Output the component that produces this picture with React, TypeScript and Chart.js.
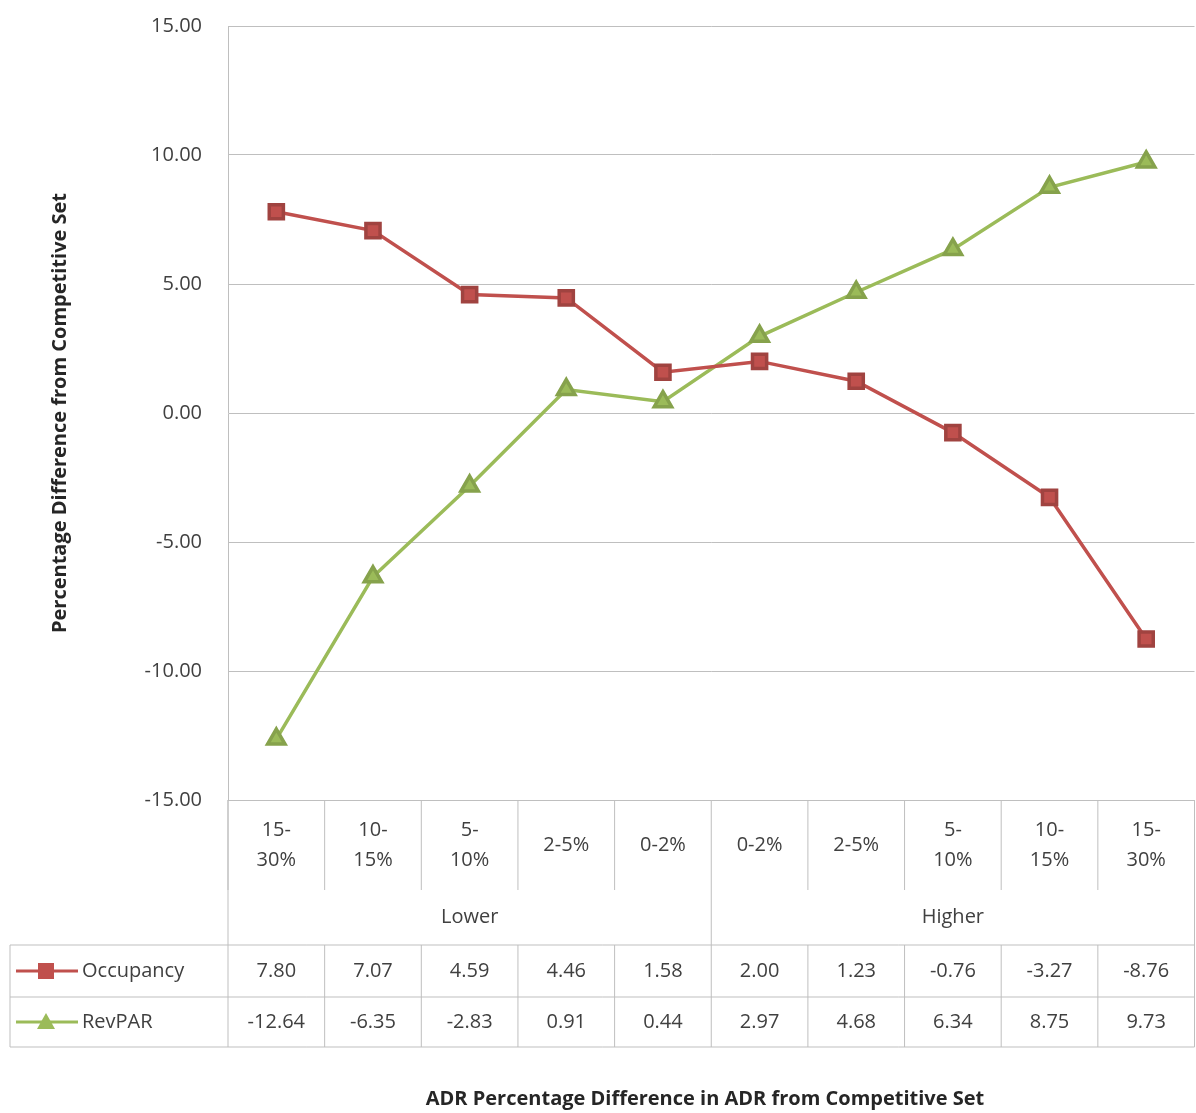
import React, { useEffect, useRef } from 'react';
import Chart from 'chart.js/auto';

const categories = ['15-30%', '10-15%', '5-10%', '2-5%', '0-2%', '0-2%', '2-5%', '5-10%', '10-15%', '15-30%'];
const categoryLines = [['15-', '30%'], ['10-', '15%'], ['5-', '10%'], ['2-5%'], ['0-2%'], ['0-2%'], ['2-5%'], ['5-', '10%'], ['10-', '15%'], ['15-', '30%']];
const groups = ['Lower', 'Higher'];
const occupancy = [7.8, 7.07, 4.59, 4.46, 1.58, 2.0, 1.23, -0.76, -3.27, -8.76];
const revpar = [-12.64, -6.35, -2.83, 0.91, 0.44, 2.97, 4.68, 6.34, 8.75, 9.73];

const FONT = '"Open Sans", sans-serif';
const RED = '#c0504d';
const GREEN = '#9bbb59';
const OFF = 12; // canvas overhang on each side, hides the point-overflow padding

export default function App() {
  const canvasRef = useRef<HTMLCanvasElement>(null);
  const chartRef = useRef<Chart | null>(null);

  useEffect(() => {
    document.body.style.margin = '0';
    if (!canvasRef.current) return;
    if (chartRef.current) chartRef.current.destroy();

    const tablePlugin = {
      id: 'dataTable',
      afterDraw(chart: any) {
        const ctx = chart.ctx as CanvasRenderingContext2D;
        const area = chart.chartArea;
        const x = chart.scales.x;
        const w = (area.right - area.left) / categories.length;
        const top = area.bottom;
        const catBottom = top + 90;
        const grpBottom = catBottom + 55;
        const row1 = grpBottom + 52;
        const row2 = row1 + 50;
        const legLeft = 10 + OFF;
        ctx.save();
        ctx.strokeStyle = '#bfbfbf';
        ctx.lineWidth = 1;
        const line = (x1: number, y1: number, x2: number, y2: number) => {
          ctx.beginPath(); ctx.moveTo(x1, y1); ctx.lineTo(x2, y2); ctx.stroke();
        };
        for (let i = 0; i <= categories.length; i++) {
          const px = area.left + i * w;
          line(px, top, px, catBottom);
        }
        line(area.left, top, area.left, grpBottom);
        line(area.left + 5 * w, catBottom, area.left + 5 * w, grpBottom);
        line(area.right, catBottom, area.right, grpBottom);
        line(legLeft, grpBottom, area.right, grpBottom);
        line(legLeft, row1, area.right, row1);
        line(legLeft, row2, area.right, row2);
        line(legLeft, grpBottom, legLeft, row2);
        for (let i = 0; i <= categories.length; i++) {
          const px = area.left + i * w;
          line(px, grpBottom, px, row2);
        }
        ctx.fillStyle = '#404040';
        ctx.font = `20px ${FONT}`;
        ctx.textAlign = 'center';
        ctx.textBaseline = 'middle';
        categoryLines.forEach((lines, i) => {
          const cx = x.getPixelForValue(i);
          const mid = (top + catBottom) / 2;
          lines.forEach((t, j) => {
            ctx.fillText(t, cx, mid + (j - (lines.length - 1) / 2) * 30);
          });
        });
        groups.forEach((g, k) => {
          ctx.fillText(g, area.left + (k * 5 + 2.5) * w, (catBottom + grpBottom) / 2);
        });
        const rows = [
          { name: 'Occupancy', data: occupancy, color: RED, y: (grpBottom + row1) / 2, shape: 'rect' },
          { name: 'RevPAR', data: revpar, color: GREEN, y: (row1 + row2) / 2, shape: 'tri' },
        ];
        rows.forEach((r) => {
          r.data.forEach((v, i) => ctx.fillText(v.toFixed(2), x.getPixelForValue(i), r.y));
          ctx.strokeStyle = r.color;
          ctx.lineWidth = 3;
          line(OFF + 16, r.y, OFF + 78, r.y);
          ctx.fillStyle = r.color;
          if (r.shape === 'rect') ctx.fillRect(OFF + 38, r.y - 8, 16, 16);
          else { ctx.beginPath(); ctx.moveTo(OFF + 46, r.y - 9); ctx.lineTo(OFF + 55, r.y + 7); ctx.lineTo(OFF + 37, r.y + 7); ctx.closePath(); ctx.fill(); }
          ctx.fillStyle = '#404040';
          ctx.textAlign = 'left';
          ctx.fillText(r.name, OFF + 82, r.y);
          ctx.textAlign = 'center';
        });
        ctx.font = `bold 20px ${FONT}`;
        ctx.fillStyle = '#262626';
        ctx.fillText('ADR Percentage Difference in ADR from Competitive Set', OFF + 705, OFF + 1099);
        ctx.restore();
      },
    };

    chartRef.current = new Chart(canvasRef.current, {
      type: 'line',
      data: {
        labels: categories,
        datasets: [
          {
            label: 'Occupancy', data: occupancy, borderColor: RED, backgroundColor: RED,
            borderWidth: 3.5, pointStyle: 'rect', pointRadius: 10, pointBorderColor: '#a04340',
          },
          {
            label: 'RevPAR', data: revpar, borderColor: GREEN, backgroundColor: GREEN,
            borderWidth: 3.5, pointStyle: 'triangle', pointRadius: 10, pointBorderColor: '#86a24c',
          },
        ],
      },
      options: {
        animation: false,
        responsive: true,
        maintainAspectRatio: false,
        layout: { padding: { top: 32, right: 12, bottom: 317, left: 0 } },
        plugins: { legend: { display: false }, tooltip: { enabled: false } },
        scales: {
          x: {
            offset: true,
            ticks: { display: false },
            grid: { display: false },
            border: { display: false },
          },
          y: {
            min: -15, max: 15,
            afterFit: (s: any) => { s.width = 228 + OFF; },
            ticks: {
              stepSize: 5, color: '#404040', padding: 26,
              font: { size: 20, family: FONT },
              callback: (v: any) => Number(v).toFixed(2),
            },
            grid: { color: '#bfbfbf', drawTicks: false },
            border: { color: '#bfbfbf' },
            title: {
              display: true, text: 'Percentage Difference from Competitive Set',
              color: '#262626', font: { size: 20, family: FONT, weight: 'bold' }, padding: { top: 48 + OFF, bottom: 20 },
            },
          },
        },
      },
      plugins: [tablePlugin],
    } as any);

    return () => { if (chartRef.current) chartRef.current.destroy(); };
  }, []);

  return (
    <div style={{ width: 1196, height: 1113, overflow: 'hidden', background: '#fff' }}>
      <div style={{ width: 1196 + 2 * OFF, height: 1113 + 2 * OFF, margin: -OFF }}>
        <canvas ref={canvasRef} />
      </div>
    </div>
  );
}
